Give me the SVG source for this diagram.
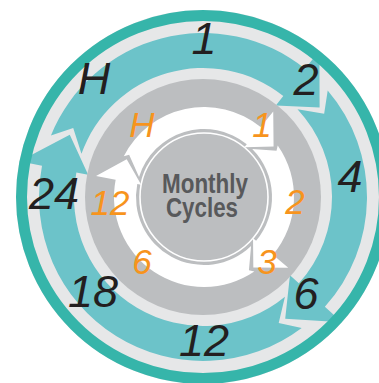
<svg xmlns="http://www.w3.org/2000/svg" width="379" height="383" viewBox="0 0 379 383">
<style>
.band{fill:#6cc3c9}
.warr{fill:#ffffff}
.lbl{font-family:"Liberation Sans",Arial,sans-serif;font-style:italic;font-size:45px;fill:#231f20;text-anchor:middle}
.olbl{font-family:"Liberation Sans",Arial,sans-serif;font-style:italic;font-size:35px;fill:#f7941d;text-anchor:middle}
.ctr{font-family:"Liberation Sans",Arial,sans-serif;font-weight:bold;font-size:27px;fill:#58595b;text-anchor:middle}
</style>
<rect width="379" height="383" fill="#ffffff"/>
<g id="background">
<circle cx="203" cy="197" r="187" fill="#e6e7e8"/>
</g>
<g id="connectors">
<g id="outer-arrows">
<path id="arrowA" class="band" d="M50.94,135.56 A164,164 0 0 1 305.09,68.65 L319.41,50.65 L319.62,107.51 L275.83,105.43 L283.30,96.04 A129,129 0 0 0 81.47,153.73 L73.21,127.99 Z"/>
<path id="arrowB" class="band" d="M327.71,90.49 A164,164 0 0 1 324.87,306.74 L341.97,322.13 L285.20,318.87 L289.95,275.29 L298.87,283.32 A129,129 0 0 0 297.50,109.19 L324.15,113.74 Z"/>
<path id="arrowC" class="band" d="M301.70,327.98 A164,164 0 0 1 42.01,165.71 L19.44,161.32 L69.77,134.87 L88.15,174.68 L76.37,172.39 A129,129 0 0 0 284.95,296.63 L278.71,323.00 Z"/>
</g>
<circle id="gray-disc" cx="203" cy="197" r="118" fill="#bcbec0"/>
<g id="inner-arrows">
<path id="arrowI1" class="warr" d="M123.81,156.14 A90,90 0 0 1 260.64,127.06 L273.23,111.51 L273.58,146.45 L244.28,147.26 L246.79,144.15 A68,68 0 0 0 139.04,176.89 L129.15,154.65 Z"/>
<path id="arrowI2" class="warr" d="M277.72,145.38 A90,90 0 0 1 272.94,254.85 L288.26,267.71 L253.33,267.45 L253.03,238.14 L256.09,240.71 A68,68 0 0 0 252.23,149.06 L276.53,150.79 Z"/>
<path id="arrowI3" class="warr" d="M254.33,271.61 A90,90 0 0 1 115.65,179.83 L96.02,176.01 L126.70,159.30 L141.18,184.79 L137.25,184.02 A68,68 0 0 0 251.07,246.08 L248.94,270.33 Z"/>
</g>
</g>
<g id="center-node">
<circle cx="204" cy="197" r="64" fill="#bcbec0" stroke="#ffffff" stroke-width="1.6"/>
<text class="ctr" x="205" y="193" textLength="86" lengthAdjust="spacingAndGlyphs">Monthly</text>
<text class="ctr" x="202" y="217" textLength="72" lengthAdjust="spacingAndGlyphs">Cycles</text>
</g>
<g id="outer-ring">
<circle cx="203" cy="197" r="181.5" fill="none" stroke="#36b5aa" stroke-width="11"/>
</g>
<g id="outer-labels">
<g id="o1"><text class="lbl" x="204" y="54">1</text></g>
<g id="o2"><text class="lbl" x="306" y="95">2</text></g>
<g id="o4"><text class="lbl" x="350" y="192">4</text></g>
<g id="o6"><text class="lbl" x="306" y="309">6</text></g>
<g id="o12"><text class="lbl" x="204" y="356">12</text></g>
<g id="o18"><text class="lbl" x="93" y="307">18</text></g>
<g id="o24"><text class="lbl" x="54" y="209">24</text></g>
<g id="oH"><text class="lbl" x="94" y="94">H</text></g>
</g>
<g id="inner-labels">
<g id="iH"><text class="olbl" x="142" y="137">H</text></g>
<g id="i1"><text class="olbl" x="262" y="137">1</text></g>
<g id="i2"><text class="olbl" x="295" y="214">2</text></g>
<g id="i3"><text class="olbl" x="267" y="274">3</text></g>
<g id="i6"><text class="olbl" x="142" y="274">6</text></g>
<g id="i12"><text class="olbl" x="110" y="215">12</text></g>
</g>
</svg>
